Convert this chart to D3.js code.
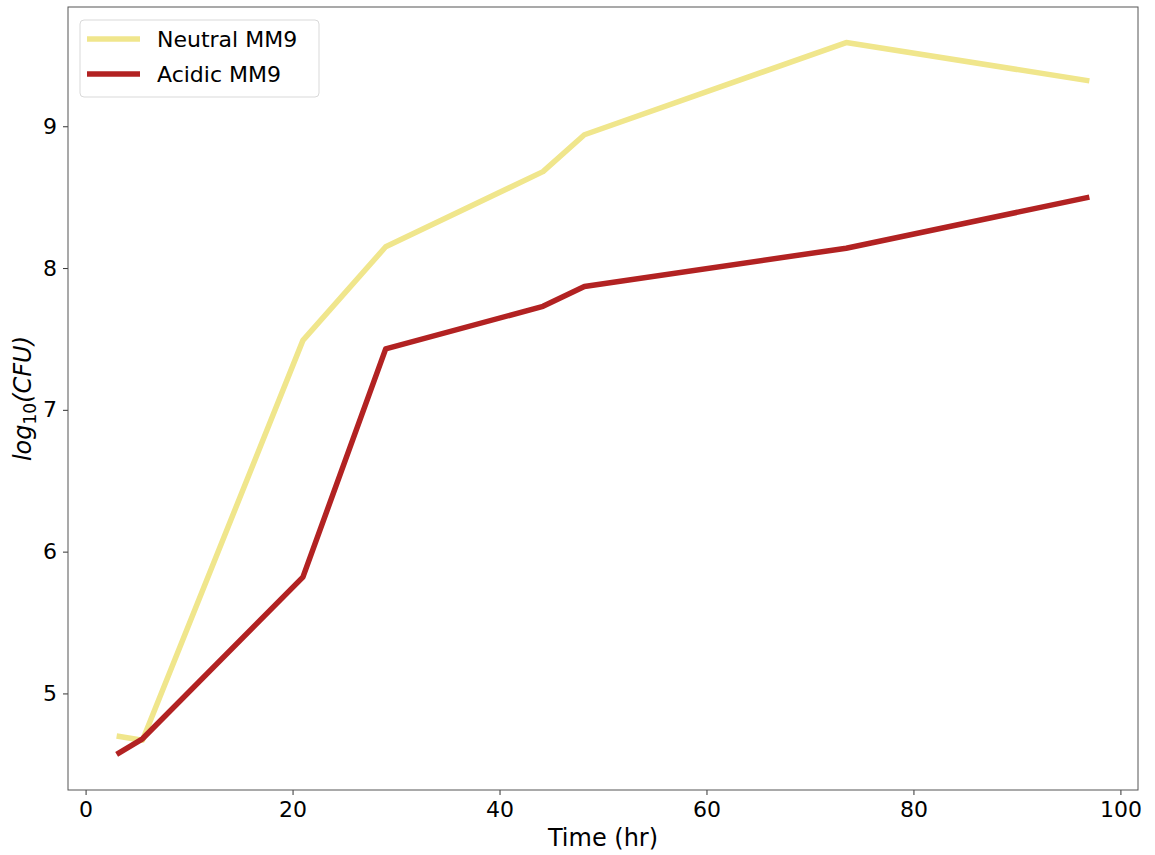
<!DOCTYPE html>
<html>
<head>
<meta charset="utf-8">
<script src="https://cdn.jsdelivr.net/npm/d3@7"></script>
<style>
  body { margin: 0; background: #fff; }
  svg text { font-family: "DejaVu Sans", sans-serif; fill: #000; }
</style>
</head>
<body>
<svg id="chart" width="1155" height="855"></svg>
<script>
const times = [3, 5.5, 21, 29, 44.2, 48.2, 73.5, 97];
const neutral = [4.70, 4.67, 7.49, 8.15, 8.68, 8.94, 9.59, 9.32];
const acidic = [4.57, 4.68, 5.82, 7.43, 7.73, 7.87, 8.14, 8.50];
const seriesNames = ["Neutral MM9", "Acidic MM9"];
const seriesColors = ["#f0e68c", "#b22222"];
const xTicks = [0, 20, 40, 60, 80, 100];
const yTicks = [5, 6, 7, 8, 9];

const svg = d3.select("#chart");
const plotLeft = 68, plotRight = 1138, plotTop = 7, plotBottom = 790;

// matplotlib-style 5% margins around the data
const xMin = d3.min(times), xMax = d3.max(times);
const xPad = (xMax - xMin) * 0.05;
const allY = neutral.concat(acidic);
const yMin = d3.min(allY), yMax = d3.max(allY);
const yPad = (yMax - yMin) * 0.05;

const x = d3.scaleLinear().domain([xMin - xPad, xMax + xPad]).range([plotLeft, plotRight]);
const y = d3.scaleLinear().domain([yMin - yPad, yMax + yPad]).range([plotBottom, plotTop]);

const line = d3.line()
    .x(d => x(d[0]))
    .y(d => y(d[1]));

const series = [neutral, acidic].map((vals, i) => ({
    name: seriesNames[i],
    color: seriesColors[i],
    points: times.map((t, j) => [t, vals[j]])
}));

svg.append("g").selectAll("path")
    .data(series)
    .join("path")
    .attr("d", d => line(d.points))
    .attr("fill", "none")
    .attr("stroke", d => d.color)
    .attr("stroke-width", 5.5)
    .attr("stroke-linejoin", "round");

// axes
const xAxis = svg.append("g")
    .attr("transform", `translate(0,${plotBottom})`)
    .call(d3.axisBottom(x).tickValues(xTicks).tickSize(5).tickPadding(6).tickFormat(d3.format("d")));
const yAxis = svg.append("g")
    .attr("transform", `translate(${plotLeft},0)`)
    .call(d3.axisLeft(y).tickValues(yTicks).tickSize(5).tickPadding(6).tickFormat(d3.format("d")));

[xAxis, yAxis].forEach(a => {
    a.select(".domain").remove();
    a.selectAll("line").attr("stroke", "#333");
    a.selectAll("text").style("font-size", "22px").style("font-family", "DejaVu Sans, sans-serif");
});

// frame
svg.append("rect")
    .attr("x", plotLeft).attr("y", plotTop)
    .attr("width", plotRight - plotLeft).attr("height", plotBottom - plotTop)
    .attr("fill", "none")
    .attr("stroke", "#555")
    .attr("stroke-width", 1);

// axis labels
svg.append("text")
    .attr("x", (plotLeft + plotRight) / 2)
    .attr("y", 846)
    .attr("text-anchor", "middle")
    .style("font-size", "24px")
    .text("Time (hr)");

const yl = svg.append("text")
    .attr("transform", `translate(31,${(plotTop + plotBottom) / 2}) rotate(-90)`)
    .attr("text-anchor", "middle")
    .style("font-size", "24px");
yl.append("tspan").style("font-style", "italic").text("log");
yl.append("tspan").attr("dy", 5).style("font-size", "17px").text("10");
yl.append("tspan").attr("dy", -5).style("font-style", "italic").text("(CFU)");

// legend
const legend = svg.append("g").attr("transform", "translate(80,20)");
legend.append("rect")
    .attr("width", 239).attr("height", 77)
    .attr("rx", 4)
    .attr("fill", "#fff")
    .attr("fill-opacity", 0.8)
    .attr("stroke", "#d9d9d9");
const items = legend.selectAll("g.item")
    .data(series)
    .join("g")
    .attr("class", "item")
    .attr("transform", (d, i) => `translate(0,${19 + i * 35})`);
items.append("line")
    .attr("x1", 7).attr("x2", 60)
    .attr("y1", 0).attr("y2", 0)
    .attr("stroke", d => d.color)
    .attr("stroke-width", 5.5);
items.append("text")
    .attr("x", 77).attr("y", 0)
    .attr("dy", "0.35em")
    .style("font-size", "22px")
    .text(d => d.name);
</script>
</body>
</html>
